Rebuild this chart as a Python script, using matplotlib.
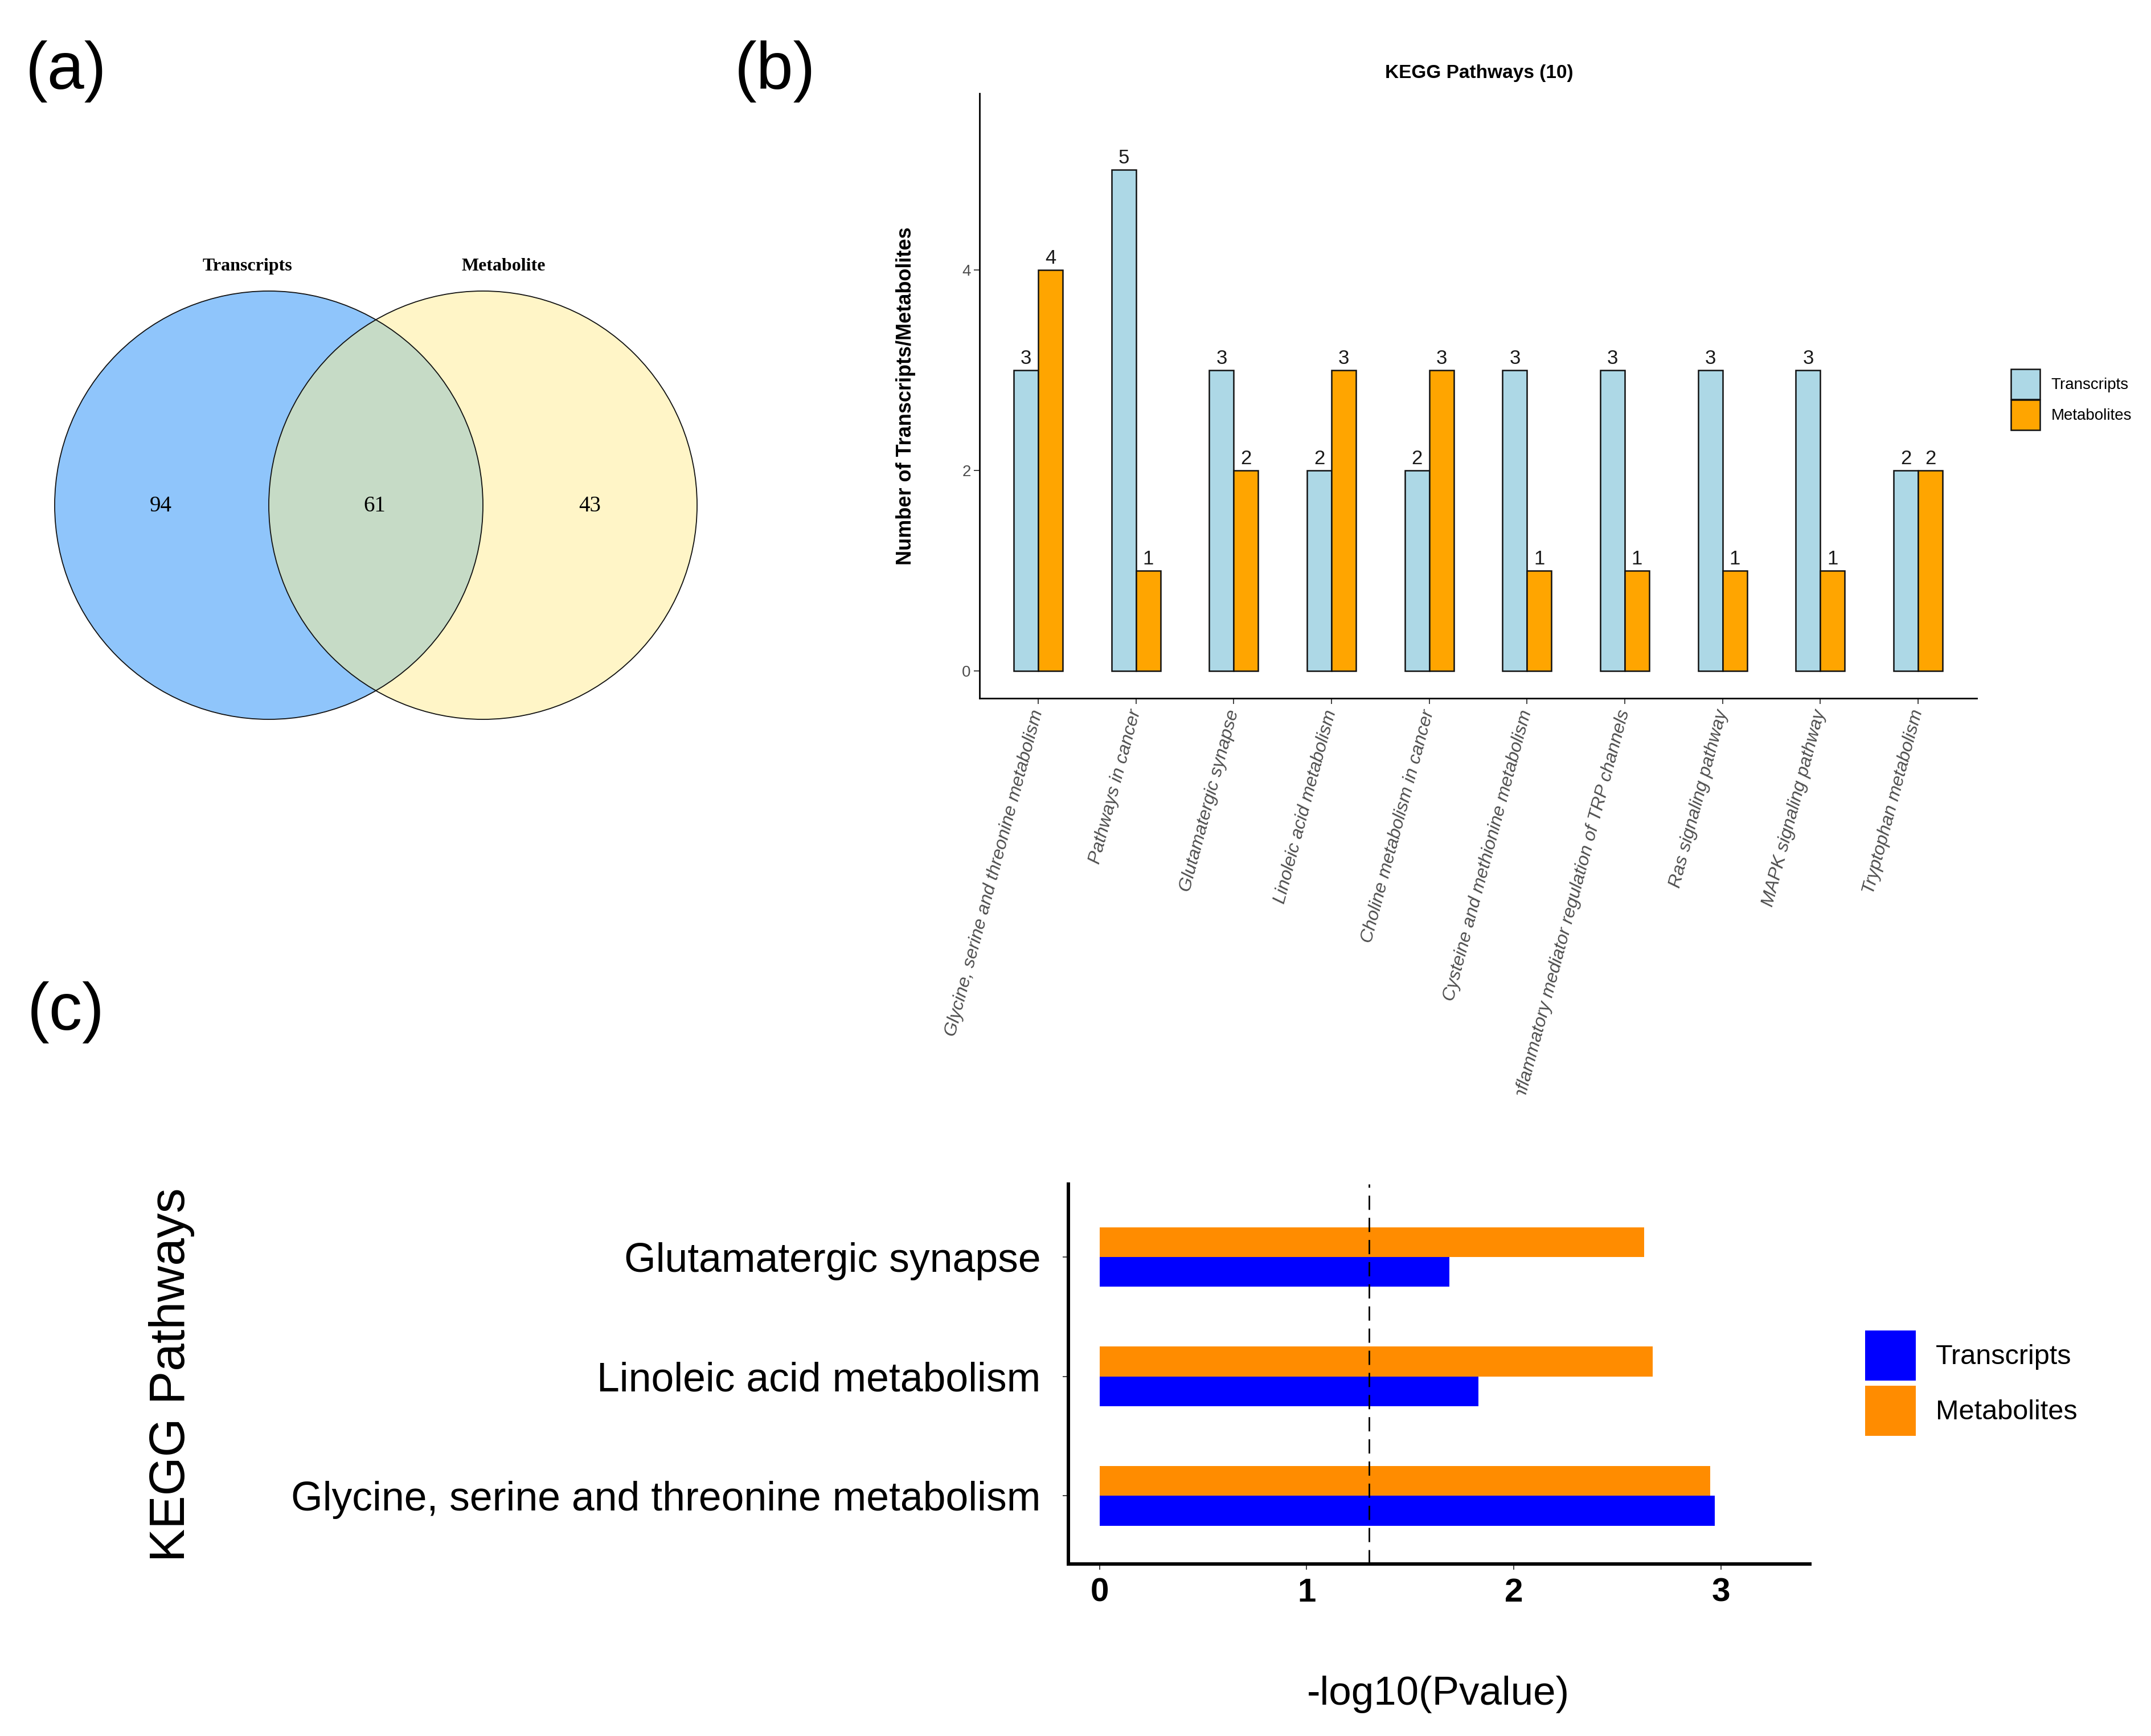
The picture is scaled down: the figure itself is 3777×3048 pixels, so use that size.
import matplotlib
matplotlib.use("Agg")
import matplotlib.pyplot as plt
from matplotlib.patches import Circle
from matplotlib.transforms import Bbox, TransformedBbox
import numpy as np

plt.rcParams['font.family'] = ['Liberation Sans', 'DejaVu Sans']

# (a) venn: transcripts only, shared, metabolite only
venn_sets = ['Transcripts', 'Metabolite']
venn_counts = [94, 61, 43]

# (b) number of transcripts / metabolites per KEGG pathway
kegg_paths = ['Glycine, serine and threonine metabolism', 'Pathways in cancer',
              'Glutamatergic synapse', 'Linoleic acid metabolism',
              'Choline metabolism in cancer', 'Cysteine and methionine metabolism',
              'Inflammatory mediator regulation of TRP channels', 'Ras signaling pathway',
              'MAPK signaling pathway', 'Tryptophan metabolism']
n_transcripts = [3, 5, 3, 2, 2, 3, 3, 3, 3, 2]
n_metabolites = [4, 1, 2, 3, 3, 1, 1, 1, 1, 2]

# (c) -log10(p) of the shared pathways (bottom to top)
enrich_paths = ['Glycine, serine and threonine metabolism', 'Linoleic acid metabolism',
                'Glutamatergic synapse']
p_transcripts = [2.97, 1.83, 1.69]
p_metabolites = [2.95, 2.67, 2.63]

W, H = 3777, 3048
fig = plt.figure(figsize=(W / 100, H / 100), dpi=100)


def frac(l, t, r, b):
    # pixel box (from top-left) -> figure fraction rect
    return [l / W, 1 - b / H, (r - l) / W, (b - t) / H]


# panel letters
for lab, (px, py) in zip(['(a)', '(b)', '(c)'], [(116, 125), (1361, 125), (116, 1778)]):
    fig.text(px / W, 1 - py / H, lab, fontsize=84, ha='center', va='center')

# ---------------- (a) venn ----------------
ax_v = fig.add_axes(frac(0, 400, 1300, 1400))
ax_v.set_xlim(0, 1300)
ax_v.set_ylim(1400, 400)
ax_v.axis('off')
c_left = Circle((472, 887), 376, facecolor='#8FC5FB', edgecolor='none')
c_right = Circle((848, 887), 376, facecolor='#FFF5C7', edgecolor='none')
ax_v.add_patch(c_left)
ax_v.add_patch(c_right)
c_mid = Circle((472, 887), 376, facecolor='#C6DBC6', edgecolor='none')
ax_v.add_patch(c_mid)
c_mid.set_clip_path(c_right)
for cx in [472, 848]:
    ax_v.add_patch(Circle((cx, 887), 376, fill=False, edgecolor='#111111', lw=1.3))
ax_v.text(434, 468, venn_sets[0], family='Liberation Serif', fontweight='bold',
          fontsize=23, ha='center', va='center')
ax_v.text(884, 468, venn_sets[1], family='Liberation Serif', fontweight='bold',
          fontsize=23, ha='center', va='center')
for cnt, cx in zip(venn_counts, [282, 658, 1036]):
    ax_v.text(cx, 889, str(cnt), family='Liberation Serif', fontsize=28,
              ha='center', va='center')

# ---------------- (b) grouped bars ----------------
ax_b = fig.add_axes(frac(1720, 164, 3471, 1226))
x = np.arange(len(kegg_paths))
w = 0.25
bt = ax_b.bar(x - w / 2, n_transcripts, w, color='#ADD8E6', edgecolor='#111111',
              lw=1.8, label='Transcripts')
bm = ax_b.bar(x + w / 2, n_metabolites, w, color='#FFA500', edgecolor='#111111',
              lw=1.8, label='Metabolites')
ax_b.bar_label(bt, padding=3, fontsize=25, color='#1a1a1a')
ax_b.bar_label(bm, padding=3, fontsize=25, color='#1a1a1a')
ax_b.set_xlim(-0.6, 9.6)
ax_b.set_ylim(-0.27, 5.76)
ax_b.set_yticks([0, 2, 4])
ax_b.set_xticks(x)
ax_b.set_xticklabels(kegg_paths, rotation=75, ha='right', va='center',
                     rotation_mode='anchor', fontstyle='italic', color='#4D4D4D',
                     fontsize=23.2)
ax_b.tick_params(axis='y', labelsize=20, labelcolor='#4D4D4D', length=7, width=1.3,
                 color='#333333', pad=4)
ax_b.tick_params(axis='x', length=7, width=1.3, color='#333333', pad=8)
for s in ['top', 'right']:
    ax_b.spines[s].set_visible(False)
for s in ['left', 'bottom']:
    ax_b.spines[s].set_linewidth(2)
ax_b.set_ylabel('Number of Transcripts/Metabolites', fontsize=26, fontweight='bold')
ax_b.yaxis.set_label_coords(-0.064, 0.5)
fig.text(2597 / W, 1 - 128 / H, 'KEGG Pathways (10)', fontsize=24, fontweight='bold',
         ha='center', va='center')
# the long label is cut off in the original panel
clip = TransformedBbox(Bbox([[0, 1 - 1922 / H], [1, 1]]), fig.transFigure)
lab6 = ax_b.get_xticklabels()[6]
lab6.set_clip_box(clip)
lab6.set_clip_on(True)
ax_b.legend(handles=[bt, bm], loc='upper left', bbox_to_anchor=(3531 / W, 1 - 648 / H),
            bbox_transform=fig.transFigure, frameon=False, fontsize=20, borderpad=0,
            handlelength=1.84, handleheight=2.56, labelspacing=0.05, handletextpad=0.7,
            borderaxespad=0)

# ---------------- (c) horizontal bars ----------------
ax_c = fig.add_axes(frac(1876, 2079, 3178, 2746))
y = np.arange(len(enrich_paths))
h = 0.25
ht = ax_c.barh(y - h / 2, p_transcripts, h, color='#0000FF', label='Transcripts')
hm = ax_c.barh(y + h / 2, p_metabolites, h, color='#FF8C00', label='Metabolites')
ax_c.axvline(-np.log10(0.05), color='black', lw=2, ls=(0, (9, 5)))
ax_c.set_xlim(-0.15, 3.43)
ax_c.set_ylim(-0.57, 2.61)
ax_c.set_xticks([0, 1, 2, 3])
ax_c.set_yticks(y)
ax_c.set_yticklabels(enrich_paths, fontsize=51.5)
for t in ax_c.get_xticklabels():
    t.set_fontweight('bold')
    t.set_fontsize(42)
ax_c.tick_params(axis='both', length=7, width=1.3, color='#333333')
ax_c.tick_params(axis='x', pad=10)
ax_c.tick_params(axis='y', pad=28)
for s in ['top', 'right']:
    ax_c.spines[s].set_visible(False)
for s in ['left', 'bottom']:
    ax_c.spines[s].set_linewidth(4.3)
fig.text(2525 / W, 1 - 2975 / H, '-log10(Pvalue)', fontsize=51, ha='center', va='center')
fig.text(301 / W, 1 - 2414 / H, 'KEGG Pathways', fontsize=63, rotation=90,
         ha='center', va='center')
ax_c.legend(handles=[ht, hm], loc='upper left', bbox_to_anchor=(3275 / W, 1 - 2336 / H),
            bbox_transform=fig.transFigure, frameon=False, fontsize=35, borderpad=0,
            handlelength=1.83, handleheight=2.41, labelspacing=0.18, handletextpad=0.72,
            borderaxespad=0)

fig.savefig('out.png', dpi=100, facecolor='white')
